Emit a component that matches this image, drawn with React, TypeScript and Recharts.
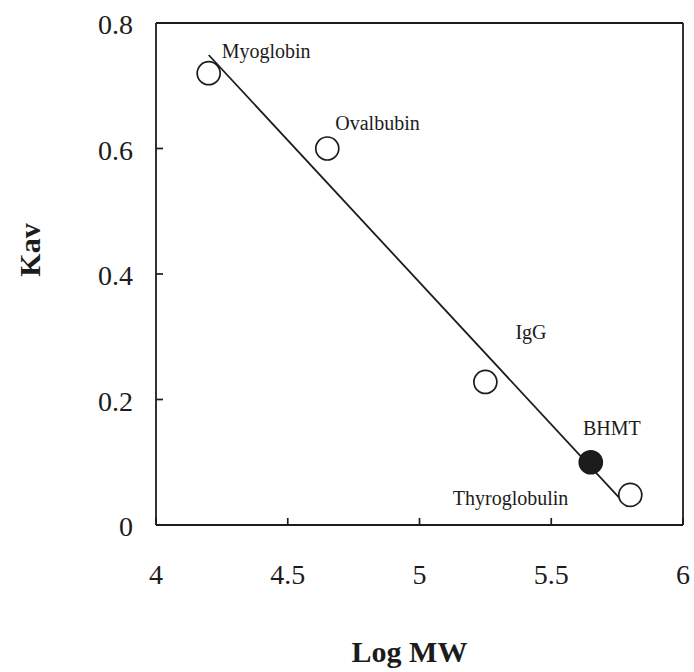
import { ScatterChart, Scatter, XAxis, YAxis, ReferenceLine, Label } from 'recharts';

// standards + sample from the gel filtration calibration
const proteins = ['Myoglobin', 'Ovalbubin', 'IgG', 'BHMT', 'Thyroglobulin'];
const logMW = [4.2, 4.65, 5.25, 5.65, 5.8];
const kav = [0.72, 0.6, 0.228, 0.1, 0.048];
const isSample = [false, false, false, true, false];

// fitted calibration line end points
const fitLogMW = [4.2, 5.79];
const fitKav = [0.749, 0.029];

const xTicks = [4, 4.5, 5, 5.5, 6];
const yTicks = [0, 0.2, 0.4, 0.6, 0.8];

const ink = '#1c1c1c';
const serif = '"Liberation Serif", "Times New Roman", serif';

// where each name sits relative to its marker
const labelPos: Record<string, { dx: number; dy: number; anchor: 'start' | 'middle' | 'end' }> = {
  Myoglobin: { dx: 13, dy: -15, anchor: 'start' },
  Ovalbubin: { dx: 8, dy: -19, anchor: 'start' },
  IgG: { dx: 30, dy: -43, anchor: 'start' },
  BHMT: { dx: 21, dy: -27, anchor: 'middle' },
  Thyroglobulin: { dx: -62, dy: 10, anchor: 'end' },
};

const points = proteins.map((name, i) => ({
  name,
  x: logMW[i],
  y: kav[i],
  filled: isSample[i],
}));

const fitData = fitLogMW.map((x, i) => ({ x, y: fitKav[i] }));

function Marker(props: any) {
  const { cx, cy, payload } = props;
  const pos = labelPos[payload.name];
  return (
    <g>
      <circle
        cx={cx}
        cy={cy}
        r={11.5}
        fill={payload.filled ? ink : '#fff'}
        stroke={ink}
        strokeWidth={1.7}
      />
      <text
        x={cx + pos.dx}
        y={cy + pos.dy}
        textAnchor={pos.anchor}
        fontFamily={serif}
        fontSize={20}
        fill={ink}
      >
        {payload.name}
      </text>
    </g>
  );
}

function XTick(props: any) {
  const { x, y, payload } = props;
  return (
    <g>
      <line x1={x} y1={y} x2={x} y2={y - 7} stroke={ink} strokeWidth={1.7} />
      <text x={x} y={y + 59} textAnchor="middle" fontFamily={serif} fontSize={28} fill={ink}>
        {payload.value}
      </text>
    </g>
  );
}

function YTick(props: any) {
  const { x, y, payload } = props;
  return (
    <g>
      <line x1={x} y1={y} x2={x + 7} y2={y} stroke={ink} strokeWidth={1.7} />
      <text x={x - 23} y={y + 11} textAnchor="end" fontFamily={serif} fontSize={28} fill={ink}>
        {payload.value}
      </text>
    </g>
  );
}

export default function App() {
  return (
    <div style={{ position: 'absolute', left: 0, top: 0, background: '#fff' }}>
      <ScatterChart width={694} height={672} margin={{ top: 23, right: 11, bottom: 0, left: 0 }}>
        <XAxis
          type="number"
          dataKey="x"
          domain={[4, 6]}
          ticks={xTicks}
          tick={<XTick />}
          tickSize={0}
          tickMargin={0}
          tickLine={false}
          axisLine={{ stroke: ink, strokeWidth: 1.8 }}
          height={147}
          interval={0}
        >
          <Label
            content={(p: any) => (
              <text
                x={p.viewBox.x + p.viewBox.width / 2 - 10}
                y={p.viewBox.y + 137}
                textAnchor="middle"
                fontFamily={serif}
                fontWeight="bold"
                fontSize={30}
                fill={ink}
              >
                Log MW
              </text>
            )}
          />
        </XAxis>
        <YAxis
          type="number"
          dataKey="y"
          domain={[0, 0.8]}
          ticks={yTicks}
          tick={<YTick />}
          tickSize={0}
          tickMargin={0}
          tickLine={false}
          axisLine={{ stroke: ink, strokeWidth: 1.8 }}
          width={156}
          interval={0}
        >
          <Label
            content={(p: any) => {
              const cy = p.viewBox.y + p.viewBox.height / 2 - 24;
              return (
                <text
                  x={40}
                  y={cy}
                  transform={`rotate(-90 40 ${cy})`}
                  textAnchor="middle"
                  fontFamily={serif}
                  fontWeight="bold"
                  fontSize={30}
                  fill={ink}
                >
                  Kav
                </text>
              );
            }}
          />
        </YAxis>
        <ReferenceLine y={0.8} stroke={ink} strokeWidth={1.8} />
        <ReferenceLine x={6} stroke={ink} strokeWidth={1.8} />
        <Scatter
          data={fitData}
          line={{ stroke: ink, strokeWidth: 1.8 }}
          shape={() => <g />}
          legendType="none"
          isAnimationActive={false}
        />
        <Scatter data={points} shape={<Marker />} isAnimationActive={false} />
      </ScatterChart>
    </div>
  );
}
